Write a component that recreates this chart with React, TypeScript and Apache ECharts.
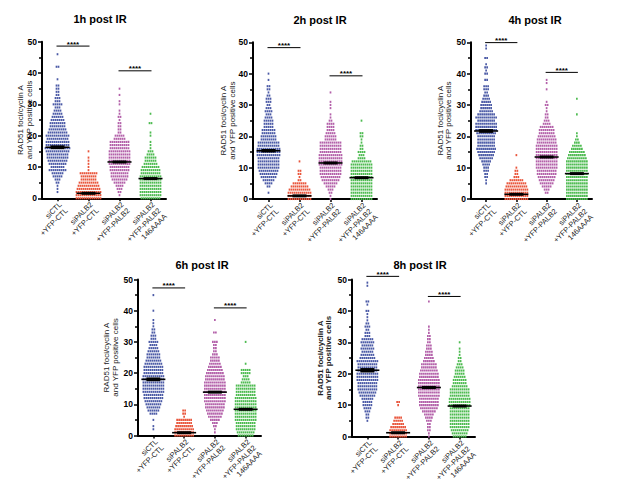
import React, { useEffect, useRef } from "react";
import * as echarts from "echarts";

// ---------- data ----------
const categories = [
  "siCTL\n+YFP-CTL",
  "siPALB2\n+YFP-CTL",
  "siPALB2\n+YFP-PALB2",
  "siPALB2\n+YFP-PALB2\n146AAAA",
];
const panelTitles = ["1h post IR", "2h post IR", "4h post IR", "6h post IR", "8h post IR"];
const yAxisName = "RAD51 foci/cyclin A\nand YFP positive cells";
const yMin = 0;
const yMax = 50;
const yInterval = 10;
const sigLabel = "****";

// number of cells per foci count (index = foci count)
const h1_siCTL = [0,0,1,1,1,2,3,5,6,9, 7,9,10,11,11,12,13,12,12,11, 12,10,9,8,8,7,6,5,4,3, 5,3,3,2,2,2,2,0,1,0, 0,0,2,0,0,0,1];
const h1_siPALB2 = [13,13,13,12,11,10,8,8,9,1, 1,1,1,1,0,1];
const h1_PALB2 = [0,1,2,3,4,6,8,9,9,10, 10,11,11,11,11,11,10,10,10,6, 5,2,2,2,2,1,2,1,1,0, 1,1,0,1,0,1];
const h1_AAAA = [10,11,11,11,11,11,11,11,10,10, 9,7,6,6,4,3,1,1,1,0, 1,1,0,0,2,0,0,1];

const h2_siCTL = [0,0,1,0,2,4,6,8,9,10, 11,11,11,11,12,12,12,11,11,8, 8,7,7,5,5,5,4,3,4,3, 2,3,3,2,1,2,2,0,1,0, 1];
const h2_siPALB2 = [12,12,12,11,9,7,2,1,2,2, 0,0,1];
const h2_PALB2 = [1,1,2,3,5,7,9,10,11,11, 11,12,12,12,12,11,11,11,11,6, 6,5,4,4,4,2,1,1,0,1, 1,1,0,0,1];
const h2_AAAA = [11,11,11,11,11,11,11,11,11,11, 11,11,10,4,3,4,2,2,1,1, 2,2,0,0,0,1];

const h4_siCTL = [0,0,0,0,0,1,1,2,2,3, 3,4,5,7,8,9,10,9,9,9, 9,10,11,11,11,9,11,9,7,6, 6,5,4,3,2,3,3,0,2,0, 2,1,2,1,0,2,0,0,1,1];
const h4_siPALB2 = [12,12,12,12,11,10,7,3,2,2, 1,0,0,0,1];
const h4_PALB2 = [0,0,2,3,5,7,8,9,10,10, 11,11,11,11,11,11,11,11,10,10, 9,8,8,7,4,3,2,2,1,1, 2,1,0,0,0,1,0,1,1];
const h4_AAAA = [11,11,11,11,11,11,11,11,11,11, 11,11,11,10,9,8,6,5,3,2, 1,1,0,0,0,0,0,1,0,0, 0,0,1];

const h6_siCTL = [0,0,1,1,0,1,0,4,6,7, 8,9,10,10,11,11,11,11,11,11, 10,10,10,9,8,7,7,6,5,4, 5,3,3,2,2,1,1,1,0,0, 1,0,0,0,0,1];
const h6_siPALB2 = [10,10,10,9,8,8,1,2,2];
const h6_PALB2 = [0,1,1,2,3,5,7,8,9,10, 10,11,11,11,11,11,11,11,10,10, 9,8,7,6,5,5,3,2,2,2, 3,0,0,2,0,0,0,1];
const h6_AAAA = [8,9,10,10,10,11,11,11,11,11, 11,11,11,10,10,10,10,5,4,3, 5,5,0,1,0,0,0,0,0,0, 1];

const h8_siCTL = [0,0,0,0,0,1,2,2,3,4, 5,5,6,8,9,10,10,10,11,11, 11,10,10,10,11,8,7,6,7,6, 7,6,3,3,2,3,2,1,1,1, 2,0,1,2,0,0,0,0,1,1];
const h8_siPALB2 = [9,9,9,8,6,5,4,0,0,0, 1,2];
const h8_PALB2 = [1,1,2,2,2,3,4,5,7,9, 10,10,10,11,11,11,11,11,11,10, 10,9,8,8,6,5,4,4,3,3, 2,2,2,1,1,1,0,0,0,0, 0,0,0,1];
const h8_AAAA = [7,8,9,10,10,10,10,10,10,10, 11,11,11,10,10,10,8,7,7,6, 5,5,4,3,2,2,1,1,1,0, 1];

// mean and SEM per category
const means_1h = [16.3, 1.6, 11.6, 6.3];
const means_2h = [15.4, 1.0, 11.5, 6.8];
const means_4h = [21.7, 1.5, 13.4, 8.1];
const means_6h = [18.0, 0.9, 13.9, 8.4];
const means_8h = [21.1, 1.2, 15.6, 9.7];
const sem_1h = [0.6, 0.25, 0.45, 0.35];
const sem_2h = [0.55, 0.2, 0.45, 0.35];
const sem_4h = [0.6, 0.25, 0.45, 0.35];
const sem_6h = [0.6, 0.2, 0.45, 0.35];
const sem_8h = [0.7, 0.25, 0.5, 0.35];

// significance brackets: [from category, to category, height]
const sig_1h = [[0, 1, 48.6], [2, 3, 40.7]];
const sig_2h = [[0, 1, 48.3], [2, 3, 39.3]];
const sig_4h = [[0, 1, 49.9], [2, 3, 40.4]];
const sig_6h = [[0, 1, 47.3], [2, 3, 40.9]];
const sig_8h = [[0, 1, 51.0], [2, 3, 44.6]];

// ---------- styles / layout ----------
const colors = ["#4b5aa6", "#e9553b", "#b360a9", "#4dbb50"];
const FONT = "'Liberation Sans', Arial, Helvetica, sans-serif";
const layouts = [
  { left: 42, top: 41.7, width: 124, height: 156.6, tx: 100, ty: 19, nx: 25, nameBold: false },
  { left: 253, top: 42.3, width: 124, height: 156.7, tx: 320, ty: 20, nx: 228, nameBold: false },
  { left: 471, top: 42.3, width: 121, height: 156.7, tx: 535, ty: 20, nx: 444.5, nameBold: false },
  { left: 138, top: 279.5, width: 123, height: 156, tx: 202, ty: 265, nx: 111, nameBold: false },
  { left: 352, top: 279.5, width: 123, height: 157, tx: 420, ty: 265, nx: 324.5, nameBold: true },
];
const DOT_SPACING = 2.0;
const DOT_W = 1.7;
const DOT_H = 2.1;

const panels = [
  { counts: [h1_siCTL, h1_siPALB2, h1_PALB2, h1_AAAA], means: means_1h, sems: sem_1h, sig: sig_1h },
  { counts: [h2_siCTL, h2_siPALB2, h2_PALB2, h2_AAAA], means: means_2h, sems: sem_2h, sig: sig_2h },
  { counts: [h4_siCTL, h4_siPALB2, h4_PALB2, h4_AAAA], means: means_4h, sems: sem_4h, sig: sig_4h },
  { counts: [h6_siCTL, h6_siPALB2, h6_PALB2, h6_AAAA], means: means_6h, sems: sem_6h, sig: sig_6h },
  { counts: [h8_siCTL, h8_siPALB2, h8_PALB2, h8_AAAA], means: means_8h, sems: sem_8h, sig: sig_8h },
];

function dotRender(params: any, api: any) {
  const p = api.coord([api.value(0), api.value(1)]);
  const n = api.value(2);
  const color = api.visual("color");
  const children: any[] = [];
  for (let k = 0; k < n; k++) {
    const x = p[0] + (k - (n - 1) / 2) * DOT_SPACING;
    children.push({
      type: "rect",
      shape: { x: x - DOT_W / 2, y: p[1] - DOT_H / 2, width: DOT_W, height: DOT_H },
      style: { fill: color },
    });
  }
  return { type: "group", children };
}

function meanRender(params: any, api: any) {
  const c = api.value(0);
  const m = api.value(1);
  const s = api.value(2);
  const p = api.coord([c, m]);
  const pTop = api.coord([c, m + s]);
  const pBot = api.coord([c, m - s]);
  const h = Math.max(3, pBot[1] - pTop[1]);
  return {
    type: "group",
    children: [
      { type: "line", shape: { x1: p[0] - 12, y1: p[1], x2: p[0] + 12, y2: p[1] }, style: { stroke: "#000", lineWidth: 1.6 } },
      { type: "rect", shape: { x: p[0] - 7, y: p[1] - h / 2, width: 14, height: h }, style: { fill: "#000" } },
    ],
  };
}

function sigRender(params: any, api: any) {
  const p1 = api.coord([api.value(0), api.value(2)]);
  const p2 = api.coord([api.value(1), api.value(2)]);
  return {
    type: "group",
    children: [
      { type: "line", shape: { x1: p1[0] - 1, y1: p1[1], x2: p2[0] + 1, y2: p2[1] }, style: { stroke: "#000", lineWidth: 1 } },
      {
        type: "text",
        x: (p1[0] + p2[0]) / 2,
        y: p1[1] - 2,
        style: { text: sigLabel, align: "center", verticalAlign: "middle", fontSize: 8, fontWeight: "bold", fill: "#000", fontFamily: FONT },
      },
    ],
  };
}

function buildOption() {
  const grid: any[] = [];
  const xAxis: any[] = [];
  const yAxis: any[] = [];
  const series: any[] = [];
  const graphic: any[] = [];
  panels.forEach((pan, i) => {
    const L = layouts[i];
    grid.push({ left: L.left, top: L.top, width: L.width, height: L.height, containLabel: false, outerBoundsMode: "none" });
    xAxis.push({
      gridIndex: i,
      type: "category",
      data: categories,
      boundaryGap: true,
      axisLine: { show: true, lineStyle: { color: "#000", width: 2 } },
      axisTick: { show: true, alignWithLabel: true, length: 3, lineStyle: { color: "#000", width: 1.5 } },
      axisLabel: {
        interval: 0,
        rotate: 45,
        fontSize: 7.5,
        lineHeight: 8.5,
        color: "#222",
        margin: 2,
        verticalAlign: "top",
        fontFamily: FONT,
      },
      splitLine: { show: false },
    });
    yAxis.push({
      gridIndex: i,
      type: "value",
      min: yMin,
      max: yMax,
      interval: yInterval,
      axisLine: { show: true, lineStyle: { color: "#000", width: 2 } },
      axisTick: { show: true, length: 4, lineStyle: { color: "#000", width: 1.5 } },
      minorTick: { show: true, splitNumber: 2, length: 3, lineStyle: { color: "#000", width: 1.5 } },
      splitLine: { show: false },
      minorSplitLine: { show: false },
      axisLabel: { fontSize: 8.5, fontWeight: "bold", color: "#000", margin: 5, fontFamily: FONT },
    });
    pan.counts.forEach((arr, c) => {
      series.push({
        type: "custom",
        xAxisIndex: i,
        yAxisIndex: i,
        clip: false,
        silent: true,
        itemStyle: { color: colors[c] },
        encode: { x: 0, y: 1 },
        data: arr.map((n, v) => [c, v, n]).filter((d) => d[2] > 0),
        renderItem: dotRender,
      });
    });
    series.push({
      type: "custom",
      xAxisIndex: i,
      yAxisIndex: i,
      clip: false,
      silent: true,
      encode: { x: 0, y: 1 },
      data: pan.means.map((m, c) => [c, m, pan.sems[c]]),
      renderItem: meanRender,
      z: 5,
    });
    series.push({
      type: "custom",
      xAxisIndex: i,
      yAxisIndex: i,
      clip: false,
      silent: true,
      encode: { x: [0, 1], y: 2 },
      data: pan.sig,
      renderItem: sigRender,
      z: 5,
    });
    graphic.push({
      type: "text",
      x: L.tx,
      y: L.ty,
      style: { text: panelTitles[i], align: "center", verticalAlign: "middle", fontSize: 11, fontWeight: "bold", fill: "#000", fontFamily: FONT },
    });
    graphic.push({
      type: "text",
      x: L.nx,
      y: L.top + L.height / 2,
      rotation: Math.PI / 2,
      style: {
        text: yAxisName,
        align: "center",
        verticalAlign: "middle",
        fontSize: 8,
        lineHeight: 8.5,
        fontWeight: L.nameBold ? "bold" : "normal",
        fill: "#222",
        fontFamily: FONT,
      },
    });
  });
  return {
    animation: false,
    backgroundColor: "#fff",
    textStyle: { fontFamily: FONT },
    grid,
    xAxis,
    yAxis,
    series,
    graphic,
  };
}

export default function App() {
  const ref = useRef<HTMLDivElement>(null);
  useEffect(() => {
    if (!ref.current) return;
    const chart = echarts.init(ref.current, null, { renderer: "svg" });
    chart.setOption(buildOption() as any);
    return () => chart.dispose();
  }, []);
  return <div ref={ref} style={{ position: "absolute", left: 0, top: 0, width: 617, height: 486 }} />;
}
